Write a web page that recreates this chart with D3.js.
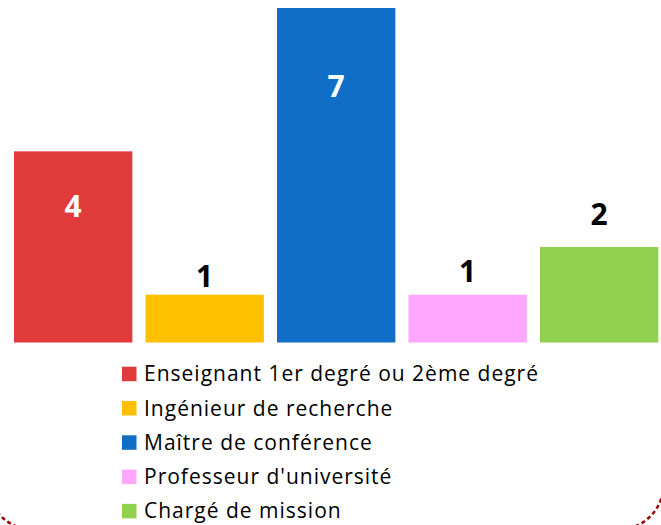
<!DOCTYPE html>
<html>
<head>
<meta charset="utf-8">
<script src="https://cdn.jsdelivr.net/npm/d3@7"></script>
<style>
  body { margin: 0; background: #fff; }
  svg { display: block; }
</style>
</head>
<body>
<div id="chart"></div>
<script>
// data
var categories = ["Enseignant 1er degré ou 2ème degré", "Ingénieur de recherche",
                  "Maître de conférence", "Professeur d'université", "Chargé de mission"];
var counts = [4, 1, 7, 1, 2];
var colors = ["#E03A3A", "#FFC000", "#106EC6", "#FFA6FF", "#92D050"];

// label baseline offset from bar top (px), hand placed like in the original
var labelDy = [66, -8, 89, -13, -22];

var W = 661, H = 525;

var svg = d3.select("#chart")
    .append("svg")
    .attr("width", W)
    .attr("height", H);

// X axis (no line drawn)
var x = d3.scaleBand()
    .domain(categories)
    .range([0.85, 671.5])
    .paddingInner(0.1)
    .paddingOuter(0.1);

// Y
var y = d3.scaleLinear()
    .domain([0, 7])
    .range([342.5, 8]);

var color = d3.scaleOrdinal().domain(categories).range(colors);

// bars
svg.selectAll("rect.bar")
    .data(categories)
    .enter()
    .append("rect")
    .attr("class", "bar")
    .attr("x", function(d) { return x(d); })
    .attr("y", function(d, i) { return y(counts[i]); })
    .attr("width", x.bandwidth())
    .attr("height", function(d, i) { return y(0) - y(counts[i]); })
    .style("fill", function(d) { return color(d); });

// value labels
svg.selectAll("text.val")
    .data(categories)
    .enter()
    .append("text")
    .attr("class", "val")
    .attr("x", function(d) { return x(d) + x.bandwidth() / 2; })
    .attr("y", function(d, i) { return y(counts[i]) + labelDy[i]; })
    .attr("text-anchor", "middle")
    .style("font-family", "'Open Sans', sans-serif")
    .style("font-weight", "bold")
    .style("font-size", "30px")
    .style("fill", function(d, i) { return labelDy[i] > 0 ? "#fff" : "#000"; })
    .text(function(d, i) { return counts[i]; });

// legend
var legend = svg.append("g")
    .attr("transform", "translate(122,366.7)");

var row = legend.selectAll("g")
    .data(categories)
    .enter()
    .append("g")
    .attr("transform", function(d, i) { return "translate(0," + (i * 34.3) + ")"; });

row.append("rect")
    .attr("width", 14.5)
    .attr("height", 14.5)
    .style("fill", function(d) { return color(d); });

row.append("text")
    .attr("x", 22)
    .attr("y", 14.5)
    .style("font-family", "'Open Sans', sans-serif")
    .style("font-size", "21px")
    .style("letter-spacing", "1px")
    .style("fill", "#000")
    .text(function(d) { return d; });

// dashed frame of the drawing, only its bottom corners show
svg.append("rect")
    .attr("x", -12)
    .attr("y", -80)
    .attr("width", 675.5)
    .attr("height", 609.6)
    .attr("rx", 45)
    .style("fill", "none")
    .style("stroke", "#A00000")
    .style("stroke-width", 2.5)
    .style("stroke-dasharray", "4,3");
</script>
</body>
</html>
